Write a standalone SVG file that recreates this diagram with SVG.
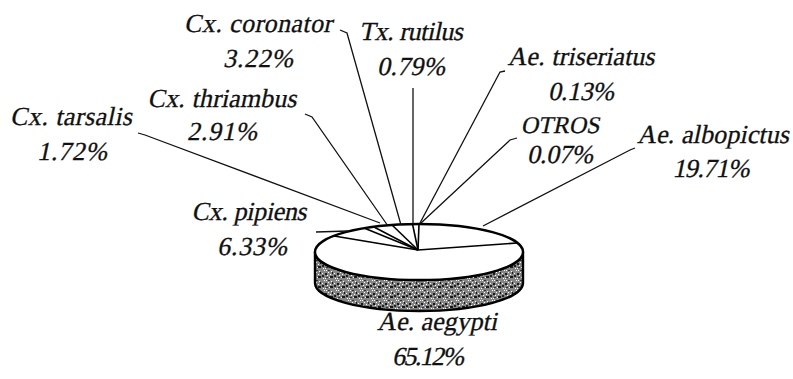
<svg xmlns="http://www.w3.org/2000/svg" width="793" height="379" viewBox="0 0 793 379">
<style>
.lbl text{font-family:"Liberation Serif","Times New Roman",serif;font-style:normal;font-size:26px;fill:#111;stroke:#111;stroke-width:0.3;text-anchor:middle}
.lead{fill:none;stroke:#111;stroke-width:1.3}
.edge{stroke:#000;stroke-width:2.4;stroke-linejoin:round}
.sl{stroke:#000;stroke-width:1.6}
</style>
<defs>
<pattern id="tex" width="12" height="10" patternUnits="userSpaceOnUse">
<rect width="12" height="10" fill="#858585"/>
<rect x="0" y="0" width="1" height="1" fill="#fff"/><rect x="2" y="0" width="1" height="1" fill="#fff"/><rect x="4" y="2" width="1" height="1" fill="#fff"/>
<rect x="6" y="4" width="1" height="1" fill="#fff"/><rect x="8" y="6" width="1" height="1" fill="#fff"/><rect x="1" y="8" width="1" height="1" fill="#fff"/>
<rect x="5" y="7" width="1" height="1" fill="#fff"/><rect x="3" y="5" width="1" height="1" fill="#fff"/><rect x="7" y="1" width="1" height="1" fill="#fff"/>
<rect x="10" y="3" width="1" height="1" fill="#fff"/><rect x="11" y="8" width="1" height="1" fill="#fff"/>
<rect x="1" y="3" width="2" height="2" fill="#1a1a1a"/><rect x="6" y="6" width="3" height="2" fill="#1a1a1a"/><rect x="4" y="0" width="2" height="1" fill="#333"/>
<rect x="8" y="2" width="1" height="2" fill="#1a1a1a"/><rect x="2" y="7" width="2" height="1" fill="#333"/><rect x="10" y="5" width="2" height="2" fill="#222"/>
</pattern>
</defs>
<g id="pie">
<path d="M315,252 L315,283 A104,28 0 0 0 523,283 L523,252 A104,28 0 0 1 315,252 Z" style="fill:url(#tex)" class="edge"/>
<ellipse cx="419" cy="252" rx="104" ry="28" style="fill:#fff" class="edge"/>
<g id="slices">
<line class="sl" x1="418" y1="250" x2="419" y2="224" stroke-width="3"/>
<line class="sl" x1="418" y1="250" x2="412.5" y2="224"/>
<line class="sl" x1="418" y1="250" x2="392" y2="225"/>
<line class="sl" x1="418" y1="250" x2="374" y2="227"/>
<line class="sl" x1="418" y1="250" x2="364" y2="228"/>
<line class="sl" x1="418" y1="250" x2="334" y2="236"/>
<line class="sl" x1="418" y1="250" x2="517" y2="243"/>
</g>
</g>
<g id="connectors">
<polyline class="lead" points="138,133 145,135 380,223"/>
<polyline class="lead" points="305,114 312,117 388,226"/>
<polyline class="lead" points="340,30 347,33 401,225"/>
<polyline class="lead" points="413,88 413,224"/>
<polyline class="lead" points="505,71 500,72 420,223"/>
<polyline class="lead" points="517,138 510,140 421,223"/>
<polyline class="lead" points="635,148 630,150 483,226"/>
<polyline class="lead" points="316,232 348,231"/>
</g>
<g class="lbl">
<g id="label-coronator"><text transform="translate(258,32) skewX(-12)" textLength="148">Cx. coronator</text><text transform="translate(258,67) skewX(-12)" textLength="70">3.22%</text></g>
<g id="label-rutilus"><text transform="translate(411,40) skewX(-12)" textLength="104">Tx. rutilus</text><text transform="translate(411,75) skewX(-12)" textLength="68">0.79%</text></g>
<g id="label-triseriatus"><text transform="translate(581,65) skewX(-12)" textLength="147">Ae. triseriatus</text><text transform="translate(581,100) skewX(-12)" textLength="66">0.13%</text></g>
<g id="label-otros"><text transform="translate(560,133) skewX(-12)" style="font-size:24px">OTROS</text><text transform="translate(560,163) skewX(-12)" textLength="66">0.07%</text></g>
<g id="label-albopictus"><text transform="translate(713,143) skewX(-12)" textLength="152">Ae. albopictus</text><text transform="translate(711,177) skewX(-12)" textLength="77">19.71%</text></g>
<g id="label-thriambus"><text transform="translate(222,107) skewX(-12)" textLength="149">Cx. thriambus</text><text transform="translate(222,140) skewX(-12)" textLength="70">2.91%</text></g>
<g id="label-tarsalis"><text transform="translate(71,125) skewX(-12)" textLength="122">Cx. tarsalis</text><text transform="translate(72,160) skewX(-12)" textLength="70">1.72%</text></g>
<g id="label-pipiens"><text transform="translate(249,220) skewX(-12)" textLength="115">Cx. pipiens</text><text transform="translate(252,255) skewX(-12)" textLength="70">6.33%</text></g>
<g id="label-aegypti"><text transform="translate(437,330) skewX(-12)">Ae. aegypti</text><text transform="translate(428,365) skewX(-12)" textLength="72">65.12%</text></g>
</g>
</svg>
